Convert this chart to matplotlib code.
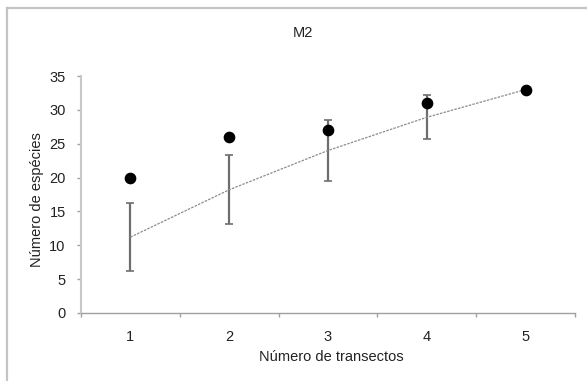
import matplotlib
matplotlib.use("Agg")
import matplotlib.pyplot as plt
from matplotlib.lines import Line2D
import numpy as np

plt.rcParams['font.family'] = ['Liberation Sans', 'DejaVu Sans']

# Data
transects = [1, 2, 3, 4, 5]
observed = [20, 26, 27, 31, 33]
mean_rarefied = [11.2, 18.2, 24.0, 28.9, 33.0]
sd_rarefied = [5.0, 5.1, 4.45, 3.25, 0.0]
yticks = [0, 5, 10, 15, 20, 25, 30, 35]

W, H = 587, 381
fig = plt.figure(figsize=(W / 100, H / 100), dpi=100)
fig.patch.set_facecolor('white')

# outer frame (only left & top visible)
fig.add_artist(Line2D([7 / W, 7 / W], [0, 1 - 8 / H], color='#c4c4c4', lw=1.6))
fig.add_artist(Line2D([7 / W, 1], [1 - 8 / H, 1 - 8 / H], color='#c4c4c4', lw=1.6))

ax = fig.add_axes([81 / W, (H - 313) / H, (575 - 81) / W, (313 - 76) / H])

x = np.array(transects)
ax.errorbar(x[:4], mean_rarefied[:4], yerr=sd_rarefied[:4], fmt='none',
            ecolor='#6e6e6e', elinewidth=1.6, capsize=3.2, capthick=1.2, zorder=2)
ax.plot(x, mean_rarefied, linestyle=(0, (2, 1)), color='#8c8c8c', lw=0.9, zorder=3)
ax.plot(x, observed, 'o', color='black', markersize=7.4, zorder=4)

fs = 10.5
ax.set_xlim(0.5, 5.5)
ax.set_ylim(0, 35)
ax.set_yticks(yticks)
ax.set_xticks([0.5, 1.5, 2.5, 3.5, 4.5, 5.5])
ax.set_xticklabels([])
ax.set_xticks(transects, minor=True)
ax.set_xticklabels([str(t) for t in transects], minor=True)
ax.tick_params(axis='x', which='major', length=3, color='#a0a0a0', width=1)
ax.tick_params(axis='x', which='minor', length=0, pad=12, labelsize=fs, labelcolor='#222222')
ax.tick_params(axis='y', length=3, color='#a0a0a0', width=1, labelsize=fs, labelcolor='#222222', pad=8)

for s in ['top', 'right']:
    ax.spines[s].set_visible(False)
ax.spines['left'].set_color('#c8c8c8')
ax.spines['left'].set_linewidth(1.5)
ax.spines['bottom'].set_color('#a0a0a0')
ax.spines['bottom'].set_linewidth(1.0)

fig.text(331 / W, 1 - 357 / H, 'Número de transectos', ha='center', va='center',
         fontsize=fs, color='#222222')
fig.text(37 / W, 1 - 200 / H, 'Número de espécies', ha='center', va='center',
         rotation=90, fontsize=fs, color='#222222')
fig.text(303 / W, 1 - 33 / H, 'M2', ha='center', va='center', fontsize=fs, color='#222222')

fig.savefig('out.png', dpi=100, facecolor='white')
